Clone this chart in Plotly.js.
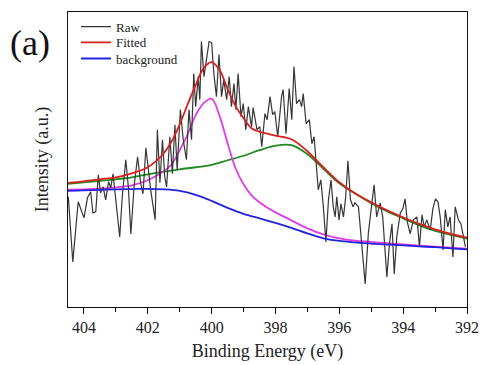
<!DOCTYPE html>
<html>
<head>
<meta charset="utf-8">
<script src="https://cdn.plot.ly/plotly-3.0.1.min.js"></script>
<style>
  html, body { margin: 0; padding: 0; background: #ffffff; }
  #chart { width: 482px; height: 365px; }
</style>
</head>
<body>
<div id="chart"></div>
<script>
// N 1s spectrum: measured counts (a.u.) against binding energy (eV)
const rawEnergy = [
  404.49, 404.35, 404.18, 404.10, 404.00, 403.89, 403.79, 403.72, 403.63, 403.55,
  403.48, 403.40, 403.32, 403.23, 403.16, 403.09, 403.01, 402.88, 402.80, 402.69,
  402.61, 402.53, 402.43, 402.32, 402.22, 402.15, 402.06, 401.91, 401.77, 401.70,
  401.62, 401.54, 401.47, 401.41, 401.31, 401.23, 401.15, 401.08, 400.98, 400.89,
  400.79, 400.71, 400.63, 400.56, 400.50, 400.42, 400.37, 400.32, 400.24, 400.16,
  400.08, 400.00, 399.93, 399.85, 399.77, 399.69, 399.62, 399.53, 399.45, 399.38,
  399.30, 399.24, 399.17, 399.08, 399.01, 398.93, 398.85, 398.75, 398.70, 398.58,
  398.49, 398.43, 398.33, 398.26, 398.17, 398.09, 398.02, 397.93, 397.81, 397.76,
  397.67, 397.57, 397.49, 397.42, 397.34, 397.25, 397.18, 397.13, 397.04, 396.94,
  396.86, 396.79, 396.71, 396.66, 396.58, 396.50, 396.42, 396.34, 396.26, 396.19,
  396.13, 396.08, 396.01, 395.95, 395.87, 395.80, 395.73, 395.65, 395.57, 395.51,
  395.40, 395.30, 395.19, 395.09, 394.98, 394.91, 394.83, 394.72, 394.64, 394.56,
  394.51, 394.43, 394.35, 394.28, 394.20, 394.09, 394.01, 393.94, 393.87, 393.78,
  393.68, 393.57, 393.49, 393.41, 393.34, 393.26, 393.15, 393.07, 392.99, 392.91,
  392.84, 392.75, 392.68, 392.60, 392.53, 392.44, 392.37, 392.27, 392.19, 392.11,
  392.05
];
const rawCounts = [
  110, 45, 105, 97, 89, 109, 115, 94, 95, 132,
  114, 120, 107, 125, 119, 133, 110, 70, 110, 147,
  120, 73, 120, 150, 123, 113, 159, 117, 87, 177,
  124, 167, 130, 120, 170, 133, 182, 137, 197, 167,
  147, 197, 167, 233, 200, 230, 207, 265, 230, 247,
  265, 264, 233, 210, 252, 210, 227, 207, 230, 200,
  223, 197, 233, 190, 203, 177, 200, 180, 199, 177,
  180, 160, 193, 187, 210, 192, 195, 170, 210, 217,
  173, 218, 187, 240, 203, 207, 200, 213, 183, 187,
  163, 170, 137, 117, 127, 100, 65, 107, 127, 100,
  90, 110, 87, 103, 90, 110, 146, 107, 100, 104,
  100, 62, 23, 74, 107, 122, 90, 104, 90, 57,
  30, 63, 83, 33, 70, 94, 98, 108, 85, 73,
  87, 90, 60, 92, 80, 87, 77, 98, 108, 105,
  90, 57, 97, 80, 90, 50, 100, 87, 83, 70,
  60
];

// Coarse energy grid for the broad component and the background
const coarseEnergy = [
  404.5, 404.0, 403.5, 403.0, 402.5, 402.0, 401.5, 401.0, 400.5, 400.0,
  399.5, 399.0, 398.5, 398.0, 397.5, 397.0, 396.5, 396.0, 395.5, 395.0,
  394.5, 394.0, 393.5, 393.0, 392.5, 392.0
];
const backgroundCounts = [
  116, 116.5, 117, 117.5, 117.7, 118, 117.5, 116, 112, 106,
  99, 93, 88.5, 84, 79, 73.5, 68.5, 66, 64.5, 63.2,
  62.3, 61.5, 60.5, 59.7, 58.5, 57.5
];
const peak2Counts = [
  123, 124.5, 126, 127.5, 129.5, 132.5, 135, 137.5, 139.5, 142,
  146.5, 151, 156.5, 161, 161.5, 152.5, 138, 123.5, 113.2, 103.5,
  95.5, 88.5, 81.5, 76, 72, 68.2
];

// Finer grid through the main peak for the narrow component and the envelope
const fineEnergy = [
  404.5, 404.0, 403.5, 403.0, 402.5, 402.0, 401.5, 401.25, 401.0, 400.75,
  400.5, 400.25, 400.0, 399.75, 399.5, 399.25, 399.0, 398.75, 398.5, 398.25,
  398.0, 397.5, 397.0, 396.5, 396.0, 395.5, 395.0, 394.5, 394.0, 393.5,
  393.0, 392.5, 392.0
];
const peak1Counts = [
  117.2, 117.5, 118.2, 119.5, 121.5, 126.5, 135.5, 142.5, 156.5, 172.5,
  191.5, 203.5, 208, 190.5, 163.5, 138.5, 122.5, 111.5, 104.5, 99,
  94.5, 86.5, 78.5, 72.5, 68.5, 66.2, 65, 63.7, 62.5, 61.2,
  60.2, 59.2, 58.2
];
const fittedCounts = [
  124, 125.5, 127.5, 129.5, 133.5, 139.5, 153.5, 165.5, 182.5, 202.5,
  221.5, 238.5, 244.5, 236.5, 217.5, 200.5, 188.5, 178.5, 175, 173,
  171, 167.5, 155.5, 139.5, 124.5, 113.2, 104.5, 96.5, 89.5, 83,
  77.5, 73, 69.2
];

const seriesNames = ['Raw', 'Fitted', 'background'];
const xTickValues = [404, 402, 400, 398, 396, 394, 392];

const serif = "'Liberation Serif', 'Times New Roman', serif";
const smooth = { shape: 'spline', smoothing: 1 };

const traces = [
  {
    x: coarseEnergy, y: peak2Counts, mode: 'lines', showlegend: false,
    line: Object.assign({ color: '#1f8a1f', width: 1.8 }, smooth), hoverinfo: 'skip'
  },
  {
    x: fineEnergy, y: peak1Counts, mode: 'lines', showlegend: false,
    line: Object.assign({ color: '#e23ce6', width: 1.8 }, smooth), hoverinfo: 'skip'
  },
  {
    x: rawEnergy, y: rawCounts, mode: 'lines', name: seriesNames[0], legend: 'legend',
    line: { color: '#363636', width: 1.2 }
  },
  {
    x: fineEnergy, y: fittedCounts, mode: 'lines', name: seriesNames[1], legend: 'legend2',
    line: Object.assign({ color: '#dc1f1f', width: 1.8 }, smooth)
  },
  {
    x: coarseEnergy, y: backgroundCounts, mode: 'lines', name: seriesNames[2], legend: 'legend3',
    line: Object.assign({ color: '#2222dd', width: 1.8 }, smooth)
  }
];

// one legend box per entry keeps the rows tightly packed
function legendBox(y) {
  return {
    x: 0.02, y: y, xanchor: 'left', yanchor: 'top',
    bgcolor: 'rgba(0,0,0,0)', borderwidth: 0,
    font: { family: serif, size: 13, color: '#222222' }
  };
}

const layout = {
  width: 482,
  height: 365,
  margin: { l: 68, r: 15, t: 12, b: 58 },
  paper_bgcolor: '#ffffff',
  plot_bgcolor: '#ffffff',
  font: { family: serif, color: '#111111' },
  showlegend: true,
  legend: legendBox(1.001),
  legend2: legendBox(0.948),
  legend3: legendBox(0.893),
  xaxis: {
    range: [404.5, 392],
    tickvals: xTickValues,
    ticktext: xTickValues.map(String),
    ticks: 'outside', ticklen: 6, tickwidth: 1, tickcolor: '#111111',
    minor: { dtick: 1, tick0: 403, ticks: 'outside', ticklen: 4, tickwidth: 1, tickcolor: '#111111' },
    showline: true, linecolor: '#111111', linewidth: 1.2, mirror: true,
    showgrid: false, zeroline: false,
    tickfont: { family: serif, size: 16, color: '#222222' },
    title: { text: 'Binding Energy (eV)', font: { family: serif, size: 18, color: '#222222' }, standoff: 9 }
  },
  yaxis: {
    range: [0, 294.5],
    showticklabels: false, ticks: '',
    showline: true, linecolor: '#111111', linewidth: 1.2, mirror: true,
    showgrid: false, zeroline: false,
    title: { text: 'Intensity (a.u.)', font: { family: serif, size: 18, color: '#222222' }, standoff: 13 }
  },
  annotations: [
    {
      text: '(a)', xref: 'paper', yref: 'paper', x: -0.095, y: 0.895,
      xanchor: 'center', yanchor: 'middle', showarrow: false,
      font: { family: serif, size: 36, color: '#111111' }
    }
  ]
};

Plotly.newPlot('chart', traces, layout, { displayModeBar: false, staticPlot: true });
</script>
</body>
</html>
